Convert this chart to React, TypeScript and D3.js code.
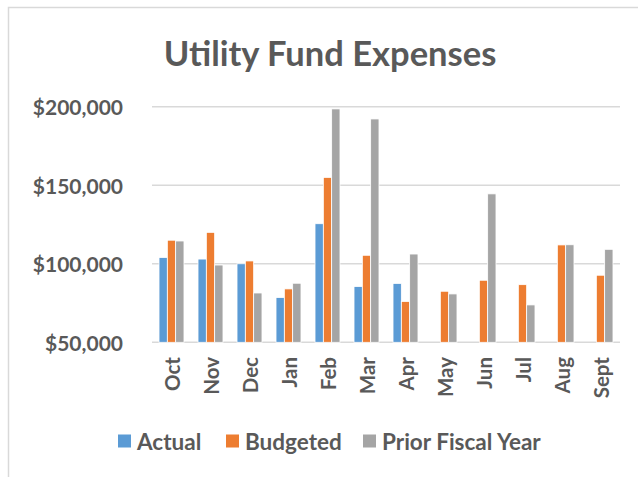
import { useMemo } from 'react';
import * as d3 from 'd3';

const months = ['Oct', 'Nov', 'Dec', 'Jan', 'Feb', 'Mar', 'Apr', 'May', 'Jun', 'Jul', 'Aug', 'Sept'];
const seriesNames = ['Actual', 'Budgeted', 'Prior Fiscal Year'];
const actual: (number | null)[] = [104000, 103000, 100000, 78500, 125500, 85500, 87500, null, null, null, null, null];
const budgeted = [115000, 120000, 101800, 84000, 155000, 105400, 76000, 82500, 89500, 86700, 112000, 92700];
const priorYear = [114500, 99200, 81400, 87600, 198600, 192200, 106200, 80800, 144500, 73800, 112100, 109200];
const yTicks = [50000, 100000, 150000, 200000];

const COLORS = ['#5B9BD5', '#ED7D31', '#A5A5A5'];
const TEXT = '#595959';
const GRID = '#D9D9D9';
const FONT = 'Lato, "Open Sans", sans-serif';

const W = 638;
const H = 477;
const PLOT = { left: 152, right: 620, top: 106.7, bottom: 342.3 };

// legend item x positions (square left edge)
const LEGEND_X = [118, 226, 363];
const LEGEND_Y = 441;

export default function App() {
  const chart = useMemo(() => {
    const x = d3.scaleBand<string>()
      .domain(months)
      .range([PLOT.left, PLOT.right])
      .paddingInner(0.36)
      .paddingOuter(0.18);
    const xs = d3.scaleBand<string>()
      .domain(seriesNames)
      .range([0, x.bandwidth()]);
    const y = d3.scaleLinear()
      .domain([50000, 200000])
      .range([PLOT.bottom, PLOT.top]);
    const all = [actual, budgeted, priorYear];
    const bars = months.flatMap((m, i) =>
      seriesNames.map((s, j) => ({ m, s, j, v: all[j][i] }))
    ).filter((b) => b.v != null) as { m: string; s: string; j: number; v: number }[];
    return { x, xs, y, bars };
  }, []);

  const fmt = d3.format('$,.0f');

  return (
    <div style={{ position: 'fixed', left: 0, top: 0 }}>
      <svg width={W} height={H} style={{ display: 'block', background: '#fff' }}>
        {/* chart border (cropped on right/bottom) */}
        <rect x={8.5} y={7.5} width={W + 10} height={H + 10} fill="#fff" stroke={GRID} strokeWidth={1.5} />

        <text
          x={330} y={52}
          textAnchor="middle"
          dominantBaseline="central"
          fontFamily={FONT}
          fontWeight={700}
          fontSize={34.5}
          fill={TEXT}
        >
          Utility Fund Expenses
        </text>

        {/* grid + y labels */}
        {yTicks.map((t) => (
          <g key={t}>
            <line
              x1={PLOT.left} x2={PLOT.right}
              y1={chart.y(t)} y2={chart.y(t)}
              stroke={GRID}
              strokeWidth={1.5}
            />
            <text
              x={123} y={chart.y(t)}
              textAnchor="end"
              dominantBaseline="central"
              fontFamily={FONT}
              fontWeight={700}
              fontSize={21}
              fill={TEXT}
            >
              {fmt(t)}
            </text>
          </g>
        ))}

        {/* bars */}
        {chart.bars.map((b) => (
          <rect
            key={b.m + b.s}
            x={(chart.x(b.m) ?? 0) + (chart.xs(b.s) ?? 0)}
            y={chart.y(b.v)}
            width={chart.xs.bandwidth()}
            height={chart.y(50000) - chart.y(b.v)}
            fill={COLORS[b.j]}
            stroke="#fff"
            strokeWidth={0.8}
          />
        ))}

        {/* x labels */}
        {months.map((m) => {
          const cx = (chart.x(m) ?? 0) + chart.x.bandwidth() / 2;
          return (
            <text
              key={m}
              transform={`translate(${cx},357) rotate(-90)`}
              textAnchor="end"
              dominantBaseline="central"
              fontFamily={FONT}
              fontWeight={700}
              fontSize={20.5}
              fill={TEXT}
            >
              {m}
            </text>
          );
        })}

        {/* legend */}
        {seriesNames.map((s, i) => (
          <g key={s} transform={`translate(${LEGEND_X[i]},${LEGEND_Y})`}>
            <rect x={0} y={-6.5} width={13} height={13} fill={COLORS[i]} />
            <text
              x={19} y={0}
              dominantBaseline="central"
              fontFamily={FONT}
              fontWeight={700}
              fontSize={22.5}
              fill={TEXT}
            >
              {s}
            </text>
          </g>
        ))}
      </svg>
    </div>
  );
}
